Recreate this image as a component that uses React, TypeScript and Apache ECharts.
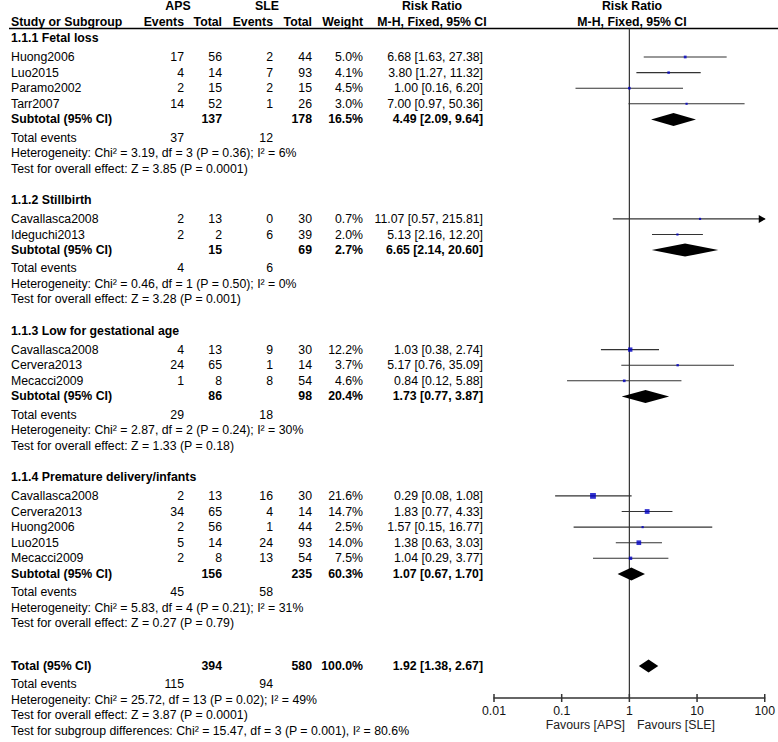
import React, { useEffect, useRef } from "react";
import * as echarts from "echarts";

// ---------- data ----------
const groupNames = [
  "1.1.1 Fetal loss",
  "1.1.2 Stillbirth",
  "1.1.3 Low for gestational age",
  "1.1.4 Premature delivery/infants",
];
const studyGroup = [0, 0, 0, 0, 1, 1, 2, 2, 2, 3, 3, 3, 3, 3];
const studyNames = [
  "Huong2006", "Luo2015", "Paramo2002", "Tarr2007",
  "Cavallasca2008", "Ideguchi2013",
  "Cavallasca2008", "Cervera2013", "Mecacci2009",
  "Cavallasca2008", "Cervera2013", "Huong2006", "Luo2015", "Mecacci2009",
];
const apsEvents = [17, 4, 2, 14, 2, 2, 4, 24, 1, 2, 34, 2, 5, 2];
const apsTotal = [56, 14, 15, 52, 13, 2, 13, 65, 8, 13, 65, 56, 14, 8];
const sleEvents = [2, 7, 2, 1, 0, 6, 9, 1, 8, 16, 4, 1, 24, 13];
const sleTotal = [44, 93, 15, 26, 30, 39, 30, 14, 54, 30, 14, 44, 93, 54];
const weights = [5.0, 4.1, 4.5, 3.0, 0.7, 2.0, 12.2, 3.7, 4.6, 21.6, 14.7, 2.5, 14.0, 7.5];
const rr = [6.68, 3.8, 1.0, 7.0, 11.07, 5.13, 1.03, 5.17, 0.84, 0.29, 1.83, 1.57, 1.38, 1.04];
const rrLow = [1.63, 1.27, 0.16, 0.97, 0.57, 2.16, 0.38, 0.76, 0.12, 0.08, 0.77, 0.15, 0.63, 0.29];
const rrHigh = [27.38, 11.32, 6.2, 50.36, 215.81, 12.2, 2.74, 35.09, 5.88, 1.08, 4.33, 16.77, 3.03, 3.77];

const subApsTotal = [137, 15, 86, 156];
const subSleTotal = [178, 69, 98, 235];
const subWeight = [16.5, 2.7, 20.4, 60.3];
const subRR = [4.49, 6.65, 1.73, 1.07];
const subLow = [2.09, 2.14, 0.77, 0.67];
const subHigh = [9.64, 20.6, 3.87, 1.7];
const subApsEvents = [37, 4, 29, 45];
const subSleEvents = [12, 6, 18, 58];
const subHet = [
  "Heterogeneity: Chi² = 3.19, df = 3 (P = 0.36); I² = 6%",
  "Heterogeneity: Chi² = 0.46, df = 1 (P = 0.50); I² = 0%",
  "Heterogeneity: Chi² = 2.87, df = 2 (P = 0.24); I² = 30%",
  "Heterogeneity: Chi² = 5.83, df = 4 (P = 0.21); I² = 31%",
];
const subEffect = [
  "Test for overall effect: Z = 3.85 (P = 0.0001)",
  "Test for overall effect: Z = 3.28 (P = 0.001)",
  "Test for overall effect: Z = 1.33 (P = 0.18)",
  "Test for overall effect: Z = 0.27 (P = 0.79)",
];

const totalApsTotal = 394;
const totalSleTotal = 580;
const totalWeight = 100.0;
const totalRR = 1.92;
const totalLow = 1.38;
const totalHigh = 2.67;
const totalApsEvents = 115;
const totalSleEvents = 94;
const totalHet = "Heterogeneity: Chi² = 25.72, df = 13 (P = 0.02); I² = 49%";
const totalEffect = "Test for overall effect: Z = 3.87 (P = 0.0001)";
const subgroupDiff = "Test for subgroup differences: Chi² = 15.47, df = 3 (P = 0.001), I² = 80.6%";

const xTicks = [0.01, 0.1, 1, 10, 100];
const favoursLeft = "Favours [APS]";
const favoursRight = "Favours [SLE]";

// ---------- layout ----------
const FONT = '"Liberation Sans", Arial, Helvetica, sans-serif';
const FS = 12.3;
const ROW = 15.6;
const AXIS_Y = 698;
const X_MIN = 0.01;
const X_MAX = 100;
const COL = { label: 11, apsE: 184, apsT: 222, sleE: 273, sleT: 312, weight: 363, ci: 483, ciHead: 432, plotHead: 632 };

const ciText = (m: number, l: number, h: number) => `${m.toFixed(2)} [${l.toFixed(2)}, ${h.toFixed(2)}]`;

type Row = { kind: string; y: number; idx: number };

function layoutRows(): Row[] {
  const rows: Row[] = [];
  let y = 38;
  groupNames.forEach((_, g) => {
    rows.push({ kind: "header", y, idx: g });
    y += ROW + 3.4;
    studyGroup.forEach((sg, i) => {
      if (sg === g) {
        rows.push({ kind: "study", y, idx: i });
        y += ROW;
      }
    });
    rows.push({ kind: "subtotal", y, idx: g });
    y += ROW + 2.5;
    rows.push({ kind: "events", y, idx: g });
    y += ROW;
    rows.push({ kind: "het", y, idx: g });
    y += ROW;
    rows.push({ kind: "effect", y, idx: g });
    y += 2 * ROW;
  });
  y += 11.5;
  rows.push({ kind: "total", y, idx: 0 });
  y += ROW + 2.5;
  rows.push({ kind: "totalEvents", y, idx: 0 });
  y += ROW;
  rows.push({ kind: "totalHet", y, idx: 0 });
  y += ROW;
  rows.push({ kind: "totalEffect", y, idx: 0 });
  y += ROW;
  rows.push({ kind: "subgroupDiff", y, idx: 0 });
  return rows;
}

function txt(text: string | number, x: number, y: number, align: string, bold = false, color = "#000") {
  const font = `${bold ? "bold " : ""}${FS}px ${FONT}`;
  return {
    type: "text",
    x,
    y,
    silent: true,
    style: {
      text: String(text),
      font,
      fill: color,
      align,
      verticalAlign: "middle",
      textAlign: align,
      textVerticalAlign: "middle",
    },
  };
}

function buildOption() {
  const rows = layoutRows();
  const graphics: any[] = [];

  // header
  graphics.push(txt("APS", 178, 6, "center", true));
  graphics.push(txt("SLE", 267, 6, "center", true));
  graphics.push(txt("Risk Ratio", COL.ciHead, 6, "center", true));
  graphics.push(txt("Risk Ratio", COL.plotHead, 6, "center", true));
  graphics.push(txt("Study or Subgroup", COL.label, 21.5, "left", true));
  graphics.push(txt("Events", COL.apsE, 21.5, "right", true));
  graphics.push(txt("Total", COL.apsT, 21.5, "right", true));
  graphics.push(txt("Events", COL.sleE, 21.5, "right", true));
  graphics.push(txt("Total", COL.sleT, 21.5, "right", true));
  graphics.push(txt("Weight", COL.weight, 21.5, "right", true));
  graphics.push(txt("M-H, Fixed, 95% CI", COL.ciHead, 21.5, "center", true));
  graphics.push(txt("M-H, Fixed, 95% CI", COL.plotHead, 21.5, "center", true));
  graphics.push({
    type: "line",
    silent: true,
    shape: { x1: 9, y1: 28.5, x2: 778, y2: 28.5 },
    style: { stroke: "#000", lineWidth: 1.5 },
  });

  const studyPts: any[] = [];
  const ciSegs: any[] = [];
  const diamonds: any[] = [];

  rows.forEach((r) => {
    const y = r.y;
    switch (r.kind) {
      case "header":
        graphics.push(txt(groupNames[r.idx], COL.label, y, "left", true));
        break;
      case "study": {
        const i = r.idx;
        graphics.push(txt(studyNames[i], COL.label, y, "left"));
        graphics.push(txt(apsEvents[i], COL.apsE, y, "right"));
        graphics.push(txt(apsTotal[i], COL.apsT, y, "right"));
        graphics.push(txt(sleEvents[i], COL.sleE, y, "right"));
        graphics.push(txt(sleTotal[i], COL.sleT, y, "right"));
        graphics.push(txt(`${weights[i].toFixed(1)}%`, COL.weight, y, "right"));
        graphics.push(txt(ciText(rr[i], rrLow[i], rrHigh[i]), COL.ci, y, "right"));
        ciSegs.push([rrLow[i], rrHigh[i], y]);
        studyPts.push([rr[i], y, weights[i]]);
        break;
      }
      case "subtotal": {
        const g = r.idx;
        graphics.push(txt("Subtotal (95% CI)", COL.label, y, "left", true));
        graphics.push(txt(subApsTotal[g], COL.apsT, y, "right", true));
        graphics.push(txt(subSleTotal[g], COL.sleT, y, "right", true));
        graphics.push(txt(`${subWeight[g].toFixed(1)}%`, COL.weight, y, "right", true));
        graphics.push(txt(ciText(subRR[g], subLow[g], subHigh[g]), COL.ci, y, "right", true));
        diamonds.push([subLow[g], subRR[g], subHigh[g], y]);
        break;
      }
      case "events":
        graphics.push(txt("Total events", COL.label, y, "left"));
        graphics.push(txt(subApsEvents[r.idx], COL.apsE, y, "right"));
        graphics.push(txt(subSleEvents[r.idx], COL.sleE, y, "right"));
        break;
      case "het":
        graphics.push(txt(subHet[r.idx], COL.label, y, "left"));
        break;
      case "effect":
        graphics.push(txt(subEffect[r.idx], COL.label, y, "left"));
        break;
      case "total":
        graphics.push(txt("Total (95% CI)", COL.label, y, "left", true));
        graphics.push(txt(totalApsTotal, COL.apsT, y, "right", true));
        graphics.push(txt(totalSleTotal, COL.sleT, y, "right", true));
        graphics.push(txt(`${totalWeight.toFixed(1)}%`, COL.weight, y, "right", true));
        graphics.push(txt(ciText(totalRR, totalLow, totalHigh), COL.ci, y, "right", true));
        diamonds.push([totalLow, totalRR, totalHigh, y]);
        break;
      case "totalEvents":
        graphics.push(txt("Total events", COL.label, y, "left"));
        graphics.push(txt(totalApsEvents, COL.apsE, y, "right"));
        graphics.push(txt(totalSleEvents, COL.sleE, y, "right"));
        break;
      case "totalHet":
        graphics.push(txt(totalHet, COL.label, y, "left"));
        break;
      case "totalEffect":
        graphics.push(txt(totalEffect, COL.label, y, "left"));
        break;
      case "subgroupDiff":
        graphics.push(txt(subgroupDiff, COL.label, y, "left"));
        break;
    }
  });

  graphics.push(txt(favoursLeft, 625, 725, "right", false, "#222"));
  graphics.push(txt(favoursRight, 637, 725, "left", false, "#222"));

  return {
    animation: false,
    backgroundColor: "#fff",
    grid: { left: 494, top: 0, width: 273, height: AXIS_Y, containLabel: false },
    xAxis: {
      type: "log",
      logBase: 10,
      min: X_MIN,
      max: X_MAX,
      axisLine: { show: true, onZero: false, lineStyle: { color: "#333", width: 1.5 } },
      axisTick: { show: false },
      splitLine: { show: false },
      minorTick: { show: false },
      axisLabel: {
        color: "#111",
        fontSize: FS,
        fontFamily: FONT,
        margin: 7,
        formatter: (v: number) => String(v),
      },
    },
    yAxis: { type: "value", min: 0, max: AXIS_Y, inverse: true, show: false },
    graphic: { elements: graphics },
    series: [
      {
        type: "custom",
        name: "refline",
        silent: true,
        clip: false,
        data: [[1, 28.5, AXIS_Y]],
        renderItem: (_p: any, api: any) => {
          const a = api.coord([api.value(0), api.value(1)]);
          const b = api.coord([api.value(0), api.value(2)]);
          return {
            type: "line",
            shape: { x1: a[0], y1: a[1], x2: b[0], y2: b[1] },
            style: { stroke: "#333", lineWidth: 1.2 },
          };
        },
      },
      {
        type: "custom",
        name: "ticks",
        silent: true,
        clip: false,
        data: xTicks.map((t) => [t, AXIS_Y]),
        renderItem: (_p: any, api: any) => {
          const a = api.coord([api.value(0), api.value(1)]);
          return {
            type: "line",
            shape: { x1: a[0], y1: a[1] - 4, x2: a[0], y2: a[1] + 4 },
            style: { stroke: "#333", lineWidth: 1.5 },
          };
        },
      },
      {
        type: "custom",
        name: "ci",
        silent: true,
        clip: false,
        data: ciSegs,
        renderItem: (_p: any, api: any) => {
          const lo = Math.max(api.value(0), X_MIN);
          const hiRaw = api.value(1);
          const hi = Math.min(hiRaw, X_MAX);
          const y = api.value(2);
          const a = api.coord([lo, y]);
          const b = api.coord([hi, y]);
          const children: any[] = [
            {
              type: "line",
              shape: { x1: a[0], y1: a[1], x2: b[0], y2: b[1] },
              style: { stroke: "#333", lineWidth: 1.1 },
            },
          ];
          if (hiRaw > X_MAX) {
            children.push({
              type: "polygon",
              shape: { points: [[b[0] + 1, b[1]], [b[0] - 6, b[1] - 4], [b[0] - 6, b[1] + 4]] },
              style: { fill: "#000" },
            });
          }
          return { type: "group", children };
        },
      },
      {
        type: "scatter",
        name: "studies",
        silent: true,
        symbol: "rect",
        itemStyle: { color: "#0000c4" },
        symbolSize: (v: number[]) => Math.max(2.2, 1.25 * Math.sqrt(v[2])),
        data: studyPts,
        z: 5,
      },
      {
        type: "custom",
        name: "diamonds",
        silent: true,
        clip: false,
        data: diamonds,
        renderItem: (_p: any, api: any) => {
          const y = api.value(3);
          const l = api.coord([api.value(0), y]);
          const m = api.coord([api.value(1), y]);
          const h = api.coord([api.value(2), y]);
          const hh = 6.5;
          return {
            type: "polygon",
            shape: { points: [[l[0], y], [m[0], y - hh], [h[0], y], [m[0], y + hh]] },
            style: { fill: "#000" },
          };
        },
      },
    ],
  };
}

export default function App() {
  const ref = useRef<HTMLDivElement>(null);
  useEffect(() => {
    if (!ref.current) return;
    const chart = echarts.init(ref.current, null, { renderer: "svg" });
    chart.setOption(buildOption() as any);
    return () => chart.dispose();
  }, []);
  return (
    <div
      ref={ref}
      style={{ position: "fixed", left: 0, top: 0, width: 778, height: 742, background: "#fff" }}
    />
  );
}
